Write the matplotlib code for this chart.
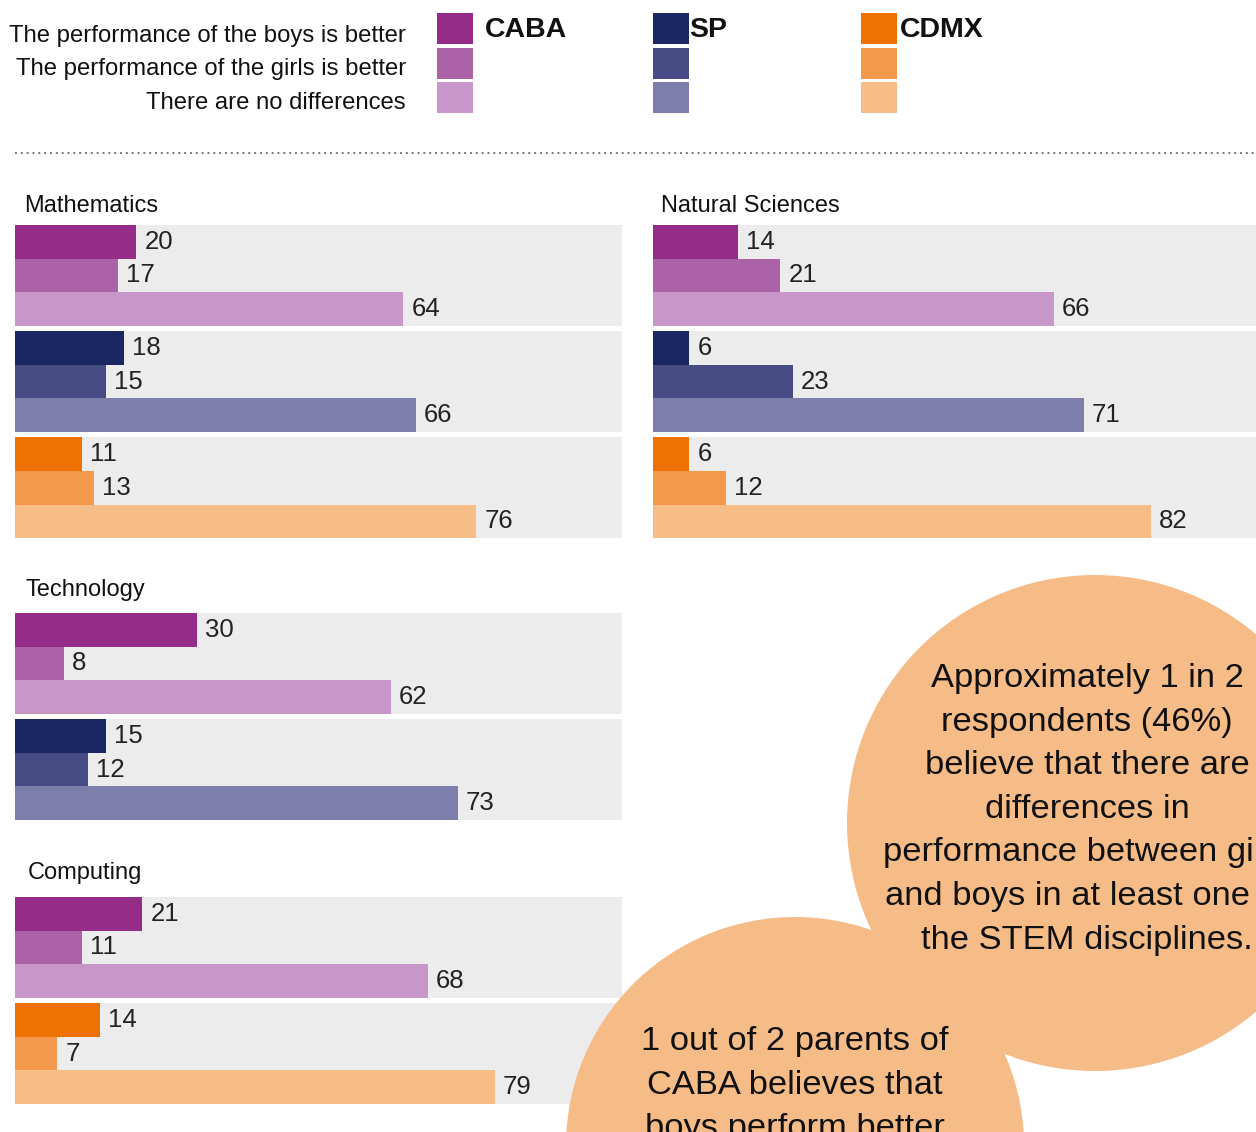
import matplotlib
matplotlib.use("Agg")
import matplotlib.pyplot as plt
from matplotlib.patches import Rectangle, Circle

# answers (rows in every group)
answers = ["The performance of the boys is better",
           "The performance of the girls is better",
           "There are no differences"]
regions = ["CABA", "SP", "CDMX"]

# percentages
math_caba = [20, 17, 64]
math_sp = [18, 15, 66]
math_cdmx = [11, 13, 76]
nat_caba = [14, 21, 66]
nat_sp = [6, 23, 71]
nat_cdmx = [6, 12, 82]
tech_caba = [30, 8, 62]
tech_sp = [15, 12, 73]
comp_caba = [21, 11, 68]
comp_cdmx = [14, 7, 79]

colors = {
    "CABA": ["#952c87", "#ab62a7", "#c697c8"],
    "SP": ["#1b2763", "#464b83", "#7d7eac"],
    "CDMX": ["#ee7203", "#f3994c", "#f7bd87"],
}
BG_GREY = "#ececec"
BUBBLE = "#f6bc87"

W, H = 1256, 1132
ROW_PX = 33.6   # one bar, in pixels
GAP = 0.16      # gap between groups, in bar units
PANEL_W = 607

fig = plt.figure(figsize=(W / 100, H / 100), dpi=100)
FONT = ["Liberation Sans", "DejaVu Sans"]


def px_box(left, top, w, h):
    return [left / W, 1 - (top + h) / H, w / W, h / H]


def draw_panel(left, top, groups):
    n = len(groups)
    h = (n * 3 + (n - 1) * GAP) * ROW_PX
    ax = fig.add_axes(px_box(left, top, PANEL_W, h))
    for g, (region, vals) in enumerate(groups):
        base = g * (3 + GAP)
        ax.barh(base + 1.5, 100, height=3, color=BG_GREY, zorder=0)
        ys = [base + 0.5 + r for r in range(len(vals))]
        ax.barh(ys, vals, height=1.0, color=colors[region], zorder=2)
        for y, v in zip(ys, vals):
            ax.text(v + 1.3, y, str(v), ha="left", va="center",
                    fontsize=18.5, color="#222222", family=FONT)
    ax.set_xlim(0, 100)
    ax.set_ylim(n * 3 + (n - 1) * GAP, 0)
    ax.axis("off")
    return ax


draw_panel(15, 225, [("CABA", math_caba), ("SP", math_sp), ("CDMX", math_cdmx)])
draw_panel(653, 225, [("CABA", nat_caba), ("SP", nat_sp), ("CDMX", nat_cdmx)])
draw_panel(15, 613, [("CABA", tech_caba), ("SP", tech_sp)])
draw_panel(15, 897, [("CABA", comp_caba), ("CDMX", comp_cdmx)])

# overlay in pixel units for legend, titles and bubbles
ov = fig.add_axes([0, 0, 1, 1], zorder=5)
ov.set_xlim(0, W)
ov.set_ylim(H, 0)
ov.patch.set_alpha(0)
ov.axis("off")

# legend
for i, a in enumerate(answers):
    ov.text(406, 42 + 33.5 * i, a, ha="right", va="baseline",
            fontsize=17.2, family=FONT, color="#111111")
for x, region in zip([437, 653, 861], regions):
    for i in range(3):
        ov.add_patch(Rectangle((x, 13 + 34.5 * i), 36, 31,
                               color=colors[region][i], lw=0))
for x, region in zip([485, 689, 900], regions):
    ov.text(x, 37, region, ha="left", va="baseline", fontsize=20.5,
            fontweight="bold", family=FONT, color="#111111")

ov.plot([15, W], [153, 153], ls=(0, (1, 2.0)), color="#777777", lw=1.4)

# panel titles
for x, y, t in [(24, 212, "Mathematics"), (661, 212, "Natural Sciences"),
                (26, 596, "Technology"), (28, 879, "Computing")]:
    ov.text(x, y, t, ha="left", va="baseline", fontsize=17,
            family=FONT, color="#111111")

# bubbles
ov.add_patch(Circle((1095, 823), 248, color=BUBBLE, lw=0))
ov.add_patch(Circle((795, 1146), 229, color=BUBBLE, lw=0))

note1 = ["Approximately 1 in 2", "respondents (46%)",
         "believe that there are", "differences in",
         "performance between girls", "and boys in at least one of",
         "the STEM disciplines."]
for i, line in enumerate(note1):
    ov.text(1087, 687 + 43.6 * i, line, ha="center", va="baseline",
            fontsize=24.8, family=FONT, color="#111111")

note2 = ["1 out of 2 parents of", "CABA believes that",
         "boys perform better"]
for i, line in enumerate(note2):
    ov.text(795, 1050 + 43.6 * i, line, ha="center", va="baseline",
            fontsize=24.8, family=FONT, color="#111111")

fig.savefig("out.png", dpi=100, facecolor="white")
